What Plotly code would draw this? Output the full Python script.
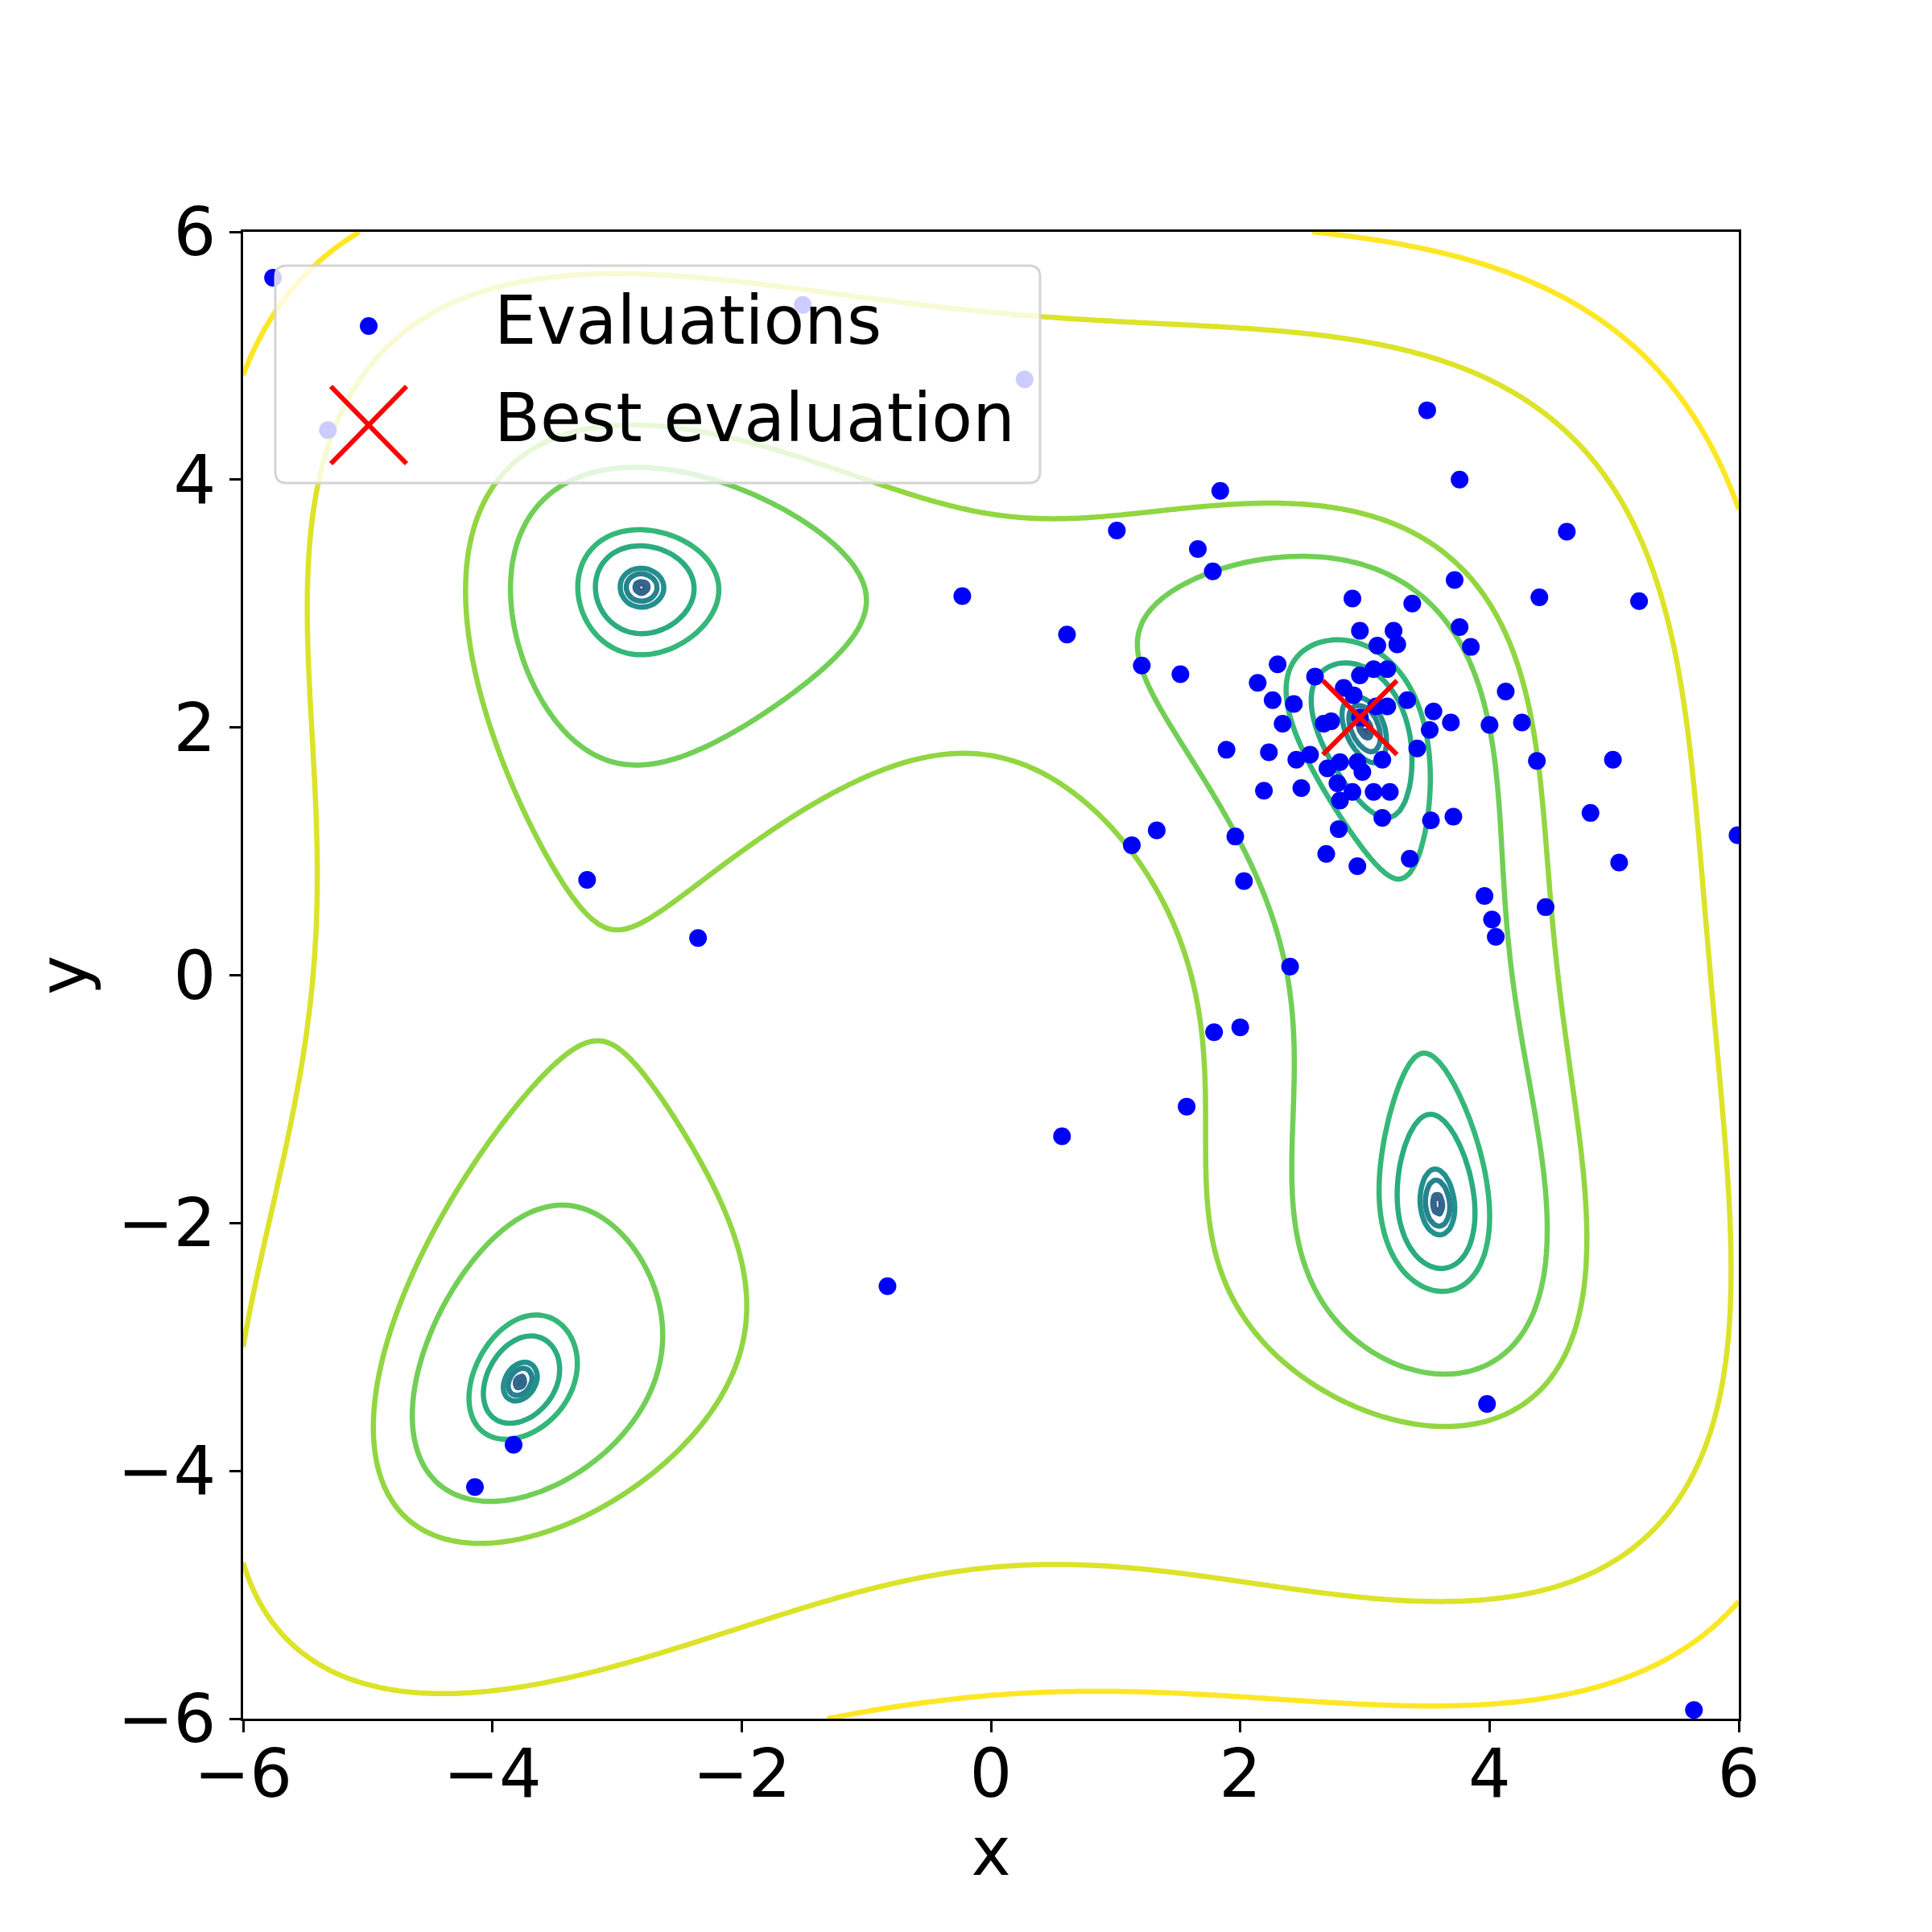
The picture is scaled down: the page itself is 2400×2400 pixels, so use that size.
import numpy as np
import plotly.graph_objects as go
from plotly.colors import sample_colorscale

# evaluated points
eval_x = [1.66, 1.78, 3.72, 2.90, 3.38, 3.76, 3.85, 2.96, 3.23, 3.26, 3.10, 2.30, 1.52, 2.14,
          2.60, 2.96, 3.07, 3.18, 2.83, 2.91, 2.26, 2.43, 3.34, 3.09, 3.18, 3.55, 3.69, 3.52,
          2.34, 2.67, 2.73, 2.96, 1.89, 2.23, 2.45, 2.56, 3.42, 2.70, 2.80, 2.94, 3.14, 2.98,
          2.78, 2.90, 3.07, 3.20, 2.80, 2.19, 2.49, 3.14, 3.53, 3.71, 2.79, 1.96, 2.69, 2.94,
          3.36, 2.03,
          -5.76, -1.51, -5.32, 0.27, 3.50, 3.76, 1.84, 1.01, 4.62, -0.23, 4.40, 5.20, 0.61,
          1.21, 4.13, 4.26, 4.00, 4.38, 4.99, 4.81, 5.99, 5.04, 3.96, 4.45, 4.02, 4.05, 1.13,
          1.33, 2.40, 2.00, 1.79, 1.57, 0.57, -3.24, -2.35, -0.83, -3.83, -4.14, 3.98, 5.64]
eval_y = [3.44, 3.26, 3.19, 3.04, 3.00, 2.81, 2.65, 2.78, 2.78, 2.67, 2.66, 2.51, 2.43, 2.36,
          2.41, 2.42, 2.47, 2.47, 2.32, 2.26, 2.22, 2.19, 2.22, 2.17, 2.17, 2.13, 2.04, 1.98,
          2.03, 2.03, 2.05, 2.08, 1.82, 1.80, 1.74, 1.78, 1.83, 1.67, 1.72, 1.72, 1.74, 1.64,
          1.55, 1.48, 1.48, 1.48, 1.41, 1.49, 1.51, 1.27, 1.25, 1.28, 1.18, 1.12, 0.98, 0.88,
          0.94, 0.76,
          5.63, 5.41, 4.40, 4.81, 4.56, 4.00, 3.91, 3.59, 3.58, 3.06, 3.05, 3.02, 2.75,
          2.50, 2.29, 2.04, 2.02, 1.73, 1.74, 1.31, 1.13, 0.91, 0.64, 0.55, 0.45, 0.31, 1.05,
          1.17, 0.07, -0.42, -0.46, -1.06, -1.30, 0.77, 0.30, -2.51, -3.79, -4.13, -3.46, -5.93]
best_x = [2.96]
best_y = [2.08]

# contour levels of the objective (Himmelblau)
levels = [0.001, 0.005, 0.01, 0.05, 0.1, 0.5, 1, 5, 10, 50, 100, 500, 1000]
ticks = [-6, -4, -2, 0, 2, 4, 6]
tick_text = [str(t).replace("-", "\u2212") for t in ticks]

gx = np.linspace(-6, 6, 301)
gy = np.linspace(-6, 6, 301)
X, Y = np.meshgrid(gx, gy)
Z = ((X**2 + Y - 11)**2 + (X + Y**2 - 7)**2).astype(np.float32)

lo, hi = np.log10(levels[0]), np.log10(levels[-1])
level_colors = sample_colorscale("Viridis", [(np.log10(l) - lo) / (hi - lo) for l in levels])

FONT = "DejaVu Sans"
FS = 83
W = H = 2400
# page body has an 8px margin, so the plot box is offset by it
L, R, T, B = 294, 248, 280, 273
OFF = 8

fig = go.Figure()
for lev, col in zip(levels, level_colors):
    fig.add_trace(go.Contour(
        x=gx, y=gy, z=Z, showscale=False, hoverinfo="skip",
        contours=dict(start=lev, end=lev, size=1, coloring="lines"),
        colorscale=[[0, col], [1, col]], line=dict(width=6.5, smoothing=1),
        showlegend=False))

fig.add_trace(go.Scatter(x=eval_x, y=eval_y, mode="markers", name="Evaluations",
                         marker=dict(color="#0000ff", size=22, line=dict(width=0)),
                         showlegend=False))
fig.add_trace(go.Scatter(x=best_x, y=best_y, mode="markers", name="Best evaluation",
                         marker=dict(symbol="x-thin", size=92, color="#ff0000",
                                     line=dict(color="#ff0000", width=6)),
                         showlegend=False))


# ── hand-made legend (matplotlib style, translucent box) ──────────────────
def px(xp):
    return (xp - OFF - L) / (W - L - R)


def py(yp):
    return (H - B - (yp - OFF)) / (H - T - B)


bx0, bx1, by0, by1, r = 342, 1292, 330, 600, 14
pts = [("M", bx0 + r, by0), ("L", bx1 - r, by0), ("Q", bx1, by0, bx1, by0 + r),
       ("L", bx1, by1 - r), ("Q", bx1, by1, bx1 - r, by1), ("L", bx0 + r, by1),
       ("Q", bx0, by1, bx0, by1 - r), ("L", bx0, by0 + r), ("Q", bx0, by0, bx0 + r, by0)]
path = ""
for p in pts:
    cmd, coords = p[0], p[1:]
    vals = []
    for i in range(0, len(coords), 2):
        vals.append(f"{px(coords[i]):.5f},{py(coords[i + 1]):.5f}")
    path += cmd + " ".join(vals) + " "
path += "Z"

shapes = [dict(type="path", path=path, xref="paper", yref="paper", layer="above",
               fillcolor="rgba(255,255,255,0.8)", line=dict(color="#d4d4d4", width=3))]
shapes.append(dict(type="circle", xref="paper", yref="paper", layer="above",
                   xsizemode="pixel", ysizemode="pixel", xanchor=px(458), yanchor=py(405),
                   x0=-11, x1=11, y0=-11, y1=11, fillcolor="#0000ff", line=dict(width=0)))
for sgn in (1, -1):
    shapes.append(dict(type="line", xref="paper", yref="paper", layer="above",
                       xsizemode="pixel", ysizemode="pixel", xanchor=px(458), yanchor=py(528),
                       x0=-47, x1=47, y0=-48 * sgn, y1=48 * sgn,
                       line=dict(color="#ff0000", width=6)))

annotations = [
    dict(text="Evaluations", x=px(612), y=py(398), xref="paper", yref="paper",
         xanchor="left", yanchor="middle", showarrow=False,
         font=dict(family=FONT, size=FS, color="black")),
    dict(text="Best evaluation", x=px(612), y=py(520), xref="paper", yref="paper",
         xanchor="left", yanchor="middle", showarrow=False,
         font=dict(family=FONT, size=FS, color="black")),
]

axis_common = dict(range=[-6, 6], tickvals=ticks, ticktext=tick_text, showgrid=False,
                   zeroline=False, showline=True, mirror=True, linecolor="black",
                   linewidth=3.3, ticks="outside", ticklen=14, tickwidth=3.3,
                   tickcolor="black", tickfont=dict(family=FONT, size=FS, color="black"))

fig.update_layout(
    width=W, height=H, margin=dict(l=L, r=R, t=T, b=B),
    plot_bgcolor="white", paper_bgcolor="white",
    font=dict(family=FONT, color="black"),
    xaxis=dict(axis_common, ticklabelstandoff=-20,
               title=dict(text="x", font=dict(family=FONT, size=FS), standoff=4)),
    yaxis=dict(axis_common,
               title=dict(text="y", font=dict(family=FONT, size=FS), standoff=10)),
    shapes=shapes, annotations=annotations, showlegend=False,
)

fig.write_html("out.html")
